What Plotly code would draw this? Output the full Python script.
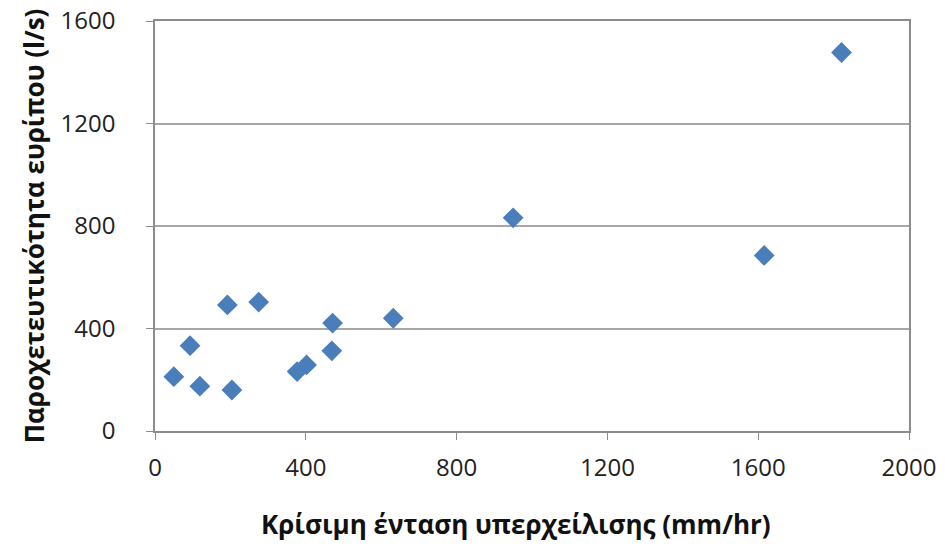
import plotly.graph_objects as go

# Critical overflow intensity (mm/hr) vs. inlet capacity (l/s)
intensity = [50, 93, 119, 192, 204, 275, 377, 402, 469, 471, 632, 950, 1616, 1821]
capacity = [212, 333, 175, 492, 160, 503, 232, 258, 313, 421, 440, 832, 685, 1477]

x_ticks = [0, 400, 800, 1200, 1600, 2000]
y_ticks = [0, 400, 800, 1200, 1600]

FONT = "Open Sans"
fig = go.Figure(
    go.Scatter(
        x=intensity,
        y=capacity,
        mode="markers",
        marker=dict(symbol="diamond", size=16, color="#4A7EBB", line=dict(width=0)),
        showlegend=False,
    )
)

fig.update_layout(
    width=945,
    height=546,
    margin=dict(l=155, r=36, t=21, b=115, autoexpand=False),
    paper_bgcolor="white",
    plot_bgcolor="white",
    font=dict(family=FONT, size=24, color="#222"),
    annotations=[
        dict(
            text="<b>Κρίσιμη ένταση υπερχείλισης (mm/hr)</b>",
            xref="paper", yref="paper",
            x=0.479, y=0, yshift=-93,
            xanchor="center", yanchor="middle",
            showarrow=False,
            font=dict(family=FONT, size=26, color="#111"),
        )
    ],
)

fig.update_xaxes(
    range=[0, 2000],
    tickvals=x_ticks,
    ticktext=[str(v) for v in x_ticks],
    showgrid=False,
    zeroline=False,
    showline=True,
    linecolor="#8c8c8c",
    linewidth=1.5,
    mirror=True,
    ticks="outside",
    ticklen=7,
    tickcolor="#8c8c8c",
    ticklabelstandoff=7,
    automargin=False,
)

fig.update_yaxes(
    range=[0, 1600],
    tickvals=y_ticks,
    ticktext=[str(v) for v in y_ticks],
    showgrid=True,
    gridcolor="#a6a6a6",
    gridwidth=1.5,
    zeroline=False,
    showline=True,
    linecolor="#8c8c8c",
    linewidth=1.5,
    mirror=True,
    ticks="outside",
    ticklen=7,
    tickcolor="#8c8c8c",
    ticklabelstandoff=26,
    automargin=False,
    title=dict(
        text="<b>Παροχετευτικότητα ευρίπου (l/s)</b>",
        font=dict(family=FONT, size=26, color="#111"),
        standoff=8,
    ),
)

fig.write_html("out.html")
